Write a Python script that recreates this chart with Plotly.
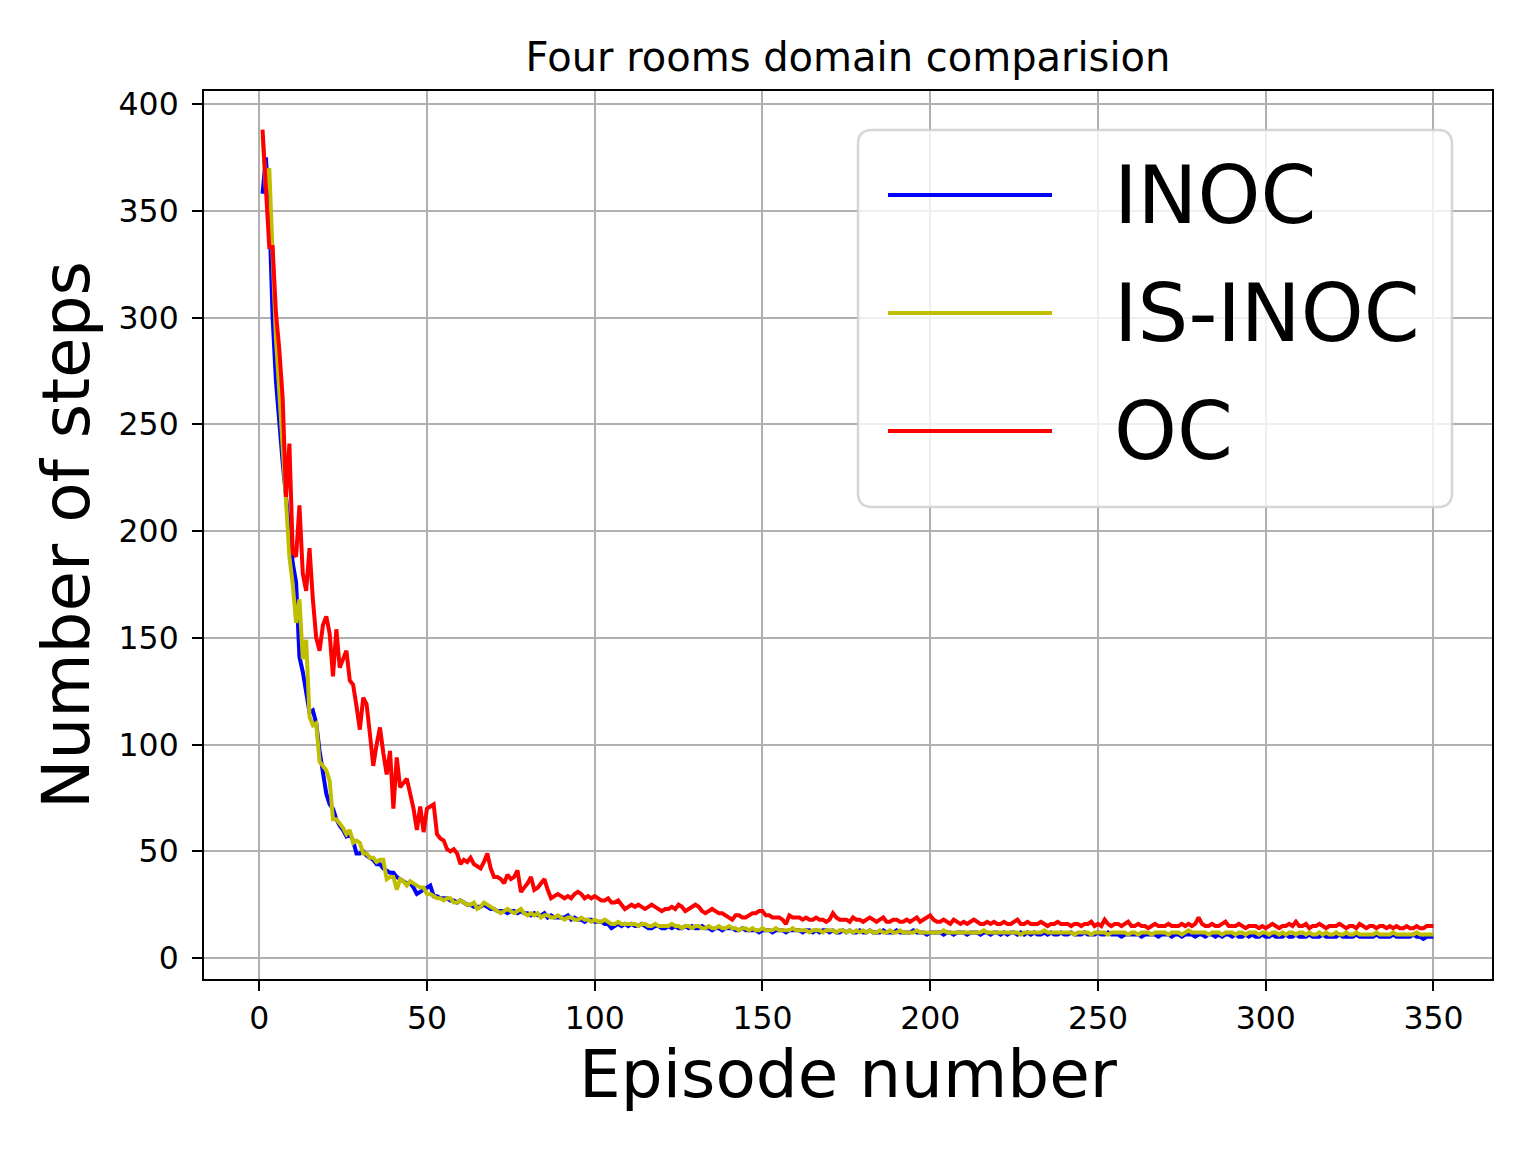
import plotly.graph_objects as go

# ---- data ----
oc = [
    388, 360, 333, 333, 302, 285, 262, 216, 241, 190,
    188, 212, 180, 172, 192, 168, 150, 144, 156, 160,
    152, 132, 154, 136, 140, 144, 130, 128, 118, 107,
    122, 119, 105, 90, 100, 108, 96, 86, 97, 70,
    94, 80, 82, 84, 77, 70, 60, 71, 59, 70,
    71, 72, 58, 56, 55, 51, 50, 51, 49, 44,
    46, 45, 47, 44, 43, 42, 45, 49, 42, 38,
    38, 37, 35, 39, 37, 38, 41, 31, 33, 35,
    38, 32, 33, 35, 37, 32, 28, 29, 30, 29,
    28, 29, 28, 30, 31, 30, 28, 29, 28, 29,
    28, 27, 27, 28, 26, 26, 27, 25, 23, 24,
    25, 24, 25, 24, 23, 24, 25, 24, 23, 22,
    23, 23, 24, 23, 25, 24, 22, 23, 24, 25,
    24, 22, 21, 22, 23, 22, 21, 21, 20, 19,
    18, 20, 20, 19, 19, 20, 21, 21, 22, 22,
    20, 20, 19, 19, 19, 18, 16, 20, 19, 19,
    19, 18, 19, 18, 18, 19, 18, 18, 17, 18,
    21, 19, 18, 18, 18, 17, 19, 18, 18, 17,
    18, 19, 18, 17, 18, 19, 17, 17, 18, 18,
    17, 17, 18, 17, 18, 19, 17, 18, 19, 20,
    18, 17, 17, 18, 17, 16, 18, 17, 16, 17,
    16, 17, 18, 17, 16, 16, 17, 16, 17, 16,
    16, 17, 16, 16, 17, 18, 16, 16, 17, 16,
    16, 16, 17, 16, 15, 16, 16, 17, 16, 16,
    16, 15, 16, 16, 15, 16, 16, 17, 15, 16,
    15, 18, 16, 15, 16, 16, 15, 16, 17, 15,
    15, 16, 15, 15, 14, 15, 16, 15, 15, 15,
    16, 15, 15, 15, 16, 15, 16, 15, 16, 19,
    16, 15, 15, 16, 15, 15, 16, 17, 15, 15,
    15, 16, 15, 14, 15, 15, 15, 14, 15, 14,
    15, 16, 15, 14, 15, 15, 16, 15, 17, 15,
    15, 16, 14, 15, 15, 16, 15, 14, 15, 15,
    15, 16, 15, 14, 15, 15, 14, 16, 15, 14,
    15, 15, 14, 15, 15, 14, 15, 14, 15, 14,
    14, 15, 14, 14, 15, 14, 14, 15, 15, 15,
]

inoc = [
    358, 375, 350, 300, 270, 250, 232, 216, 200, 185,
    176, 141, 134, 125, 115, 116, 110, 97, 88, 77,
    72, 70, 65, 62, 60, 57, 58, 55, 49, 49,
    50, 48, 47, 46, 44, 44, 42, 41, 40, 40,
    38, 37, 36, 35, 35, 33, 30, 31, 32, 33,
    34, 29, 29, 28, 28, 28, 27, 27, 26, 27,
    26, 25, 25, 24, 24, 24, 25, 24, 23, 23,
    22, 22, 22, 21, 22, 22, 21, 22, 21, 21,
    20, 21, 20, 20, 21, 19, 20, 19, 19, 19,
    19, 20, 18, 19, 18, 18, 17, 18, 18, 17,
    17, 17, 16, 16, 14, 15, 16, 15, 16, 15,
    16, 15, 15, 16, 15, 14, 14, 15, 15, 14,
    14, 15, 14, 15, 14, 14, 15, 14, 15, 14,
    14, 15, 14, 14, 13, 14, 14, 13, 14, 14,
    14, 13, 13, 14, 13, 13, 13, 13, 12, 13,
    13, 13, 12, 13, 13, 13, 12, 13, 13, 13,
    13, 12, 13, 13, 12, 13, 12, 13, 13, 12,
    13, 12, 12, 13, 12, 13, 12, 12, 13, 12,
    12, 13, 12, 12, 12, 13, 12, 12, 12, 13,
    12, 12, 12, 12, 13, 12, 12, 12, 11, 12,
    12, 12, 12, 11, 12, 12, 11, 12, 12, 12,
    11, 12, 12, 12, 11, 12, 12, 11, 12, 12,
    11, 12, 11, 12, 12, 11, 12, 11, 12, 11,
    12, 11, 11, 12, 11, 12, 11, 11, 12, 11,
    11, 12, 11, 11, 11, 12, 11, 11, 11, 12,
    11, 11, 12, 11, 11, 11, 10, 11, 11, 11,
    11, 11, 10, 11, 11, 11, 11, 10, 11, 11,
    11, 10, 11, 11, 10, 11, 11, 11, 10, 11,
    11, 10, 11, 11, 10, 11, 10, 11, 11, 10,
    11, 10, 10, 11, 10, 11, 10, 10, 11, 10,
    10, 11, 10, 10, 10, 11, 10, 10, 11, 10,
    10, 10, 11, 10, 10, 10, 11, 10, 10, 10,
    10, 11, 10, 10, 10, 10, 11, 10, 10, 10,
    10, 10, 11, 10, 10, 10, 10, 11, 10, 10,
    10, 10, 10, 11, 10, 10, 9, 10, 10, 10,
]

is_inoc = [
    385, 360, 370, 330, 290, 265, 240, 220, 188, 175,
    157, 168, 140, 149, 113, 109, 110, 92, 90, 88,
    83, 65, 65, 63, 61, 58, 60, 54, 55, 54,
    49, 49, 47, 47, 45, 46, 46, 37, 38, 38,
    32, 37, 36, 34, 36, 35, 34, 33, 33, 30,
    30, 29, 28, 28, 27, 28, 28, 26, 26, 27,
    26, 25, 25, 26, 23, 24, 26, 25, 24, 23,
    22, 21, 22, 23, 22, 21, 22, 23, 21, 20,
    21, 20, 21, 19, 20, 20, 19, 19, 20, 19,
    18, 19, 19, 18, 18, 19, 18, 18, 17, 18,
    17, 17, 18, 17, 16, 16, 17, 16, 16, 16,
    16, 16, 15, 16, 16, 15, 15, 16, 15, 15,
    15, 15, 16, 15, 15, 14, 15, 15, 14, 15,
    15, 14, 14, 15, 14, 14, 15, 14, 14, 15,
    14, 14, 13, 14, 14, 13, 14, 13, 13, 14,
    13, 13, 13, 14, 13, 13, 13, 13, 14, 13,
    13, 13, 13, 12, 13, 13, 13, 12, 13, 13,
    13, 12, 13, 13, 12, 13, 12, 13, 12, 13,
    12, 13, 12, 12, 13, 12, 12, 13, 12, 12,
    13, 12, 12, 12, 12, 13, 12, 12, 12, 12,
    12, 12, 12, 13, 12, 12, 12, 12, 12, 12,
    12, 12, 12, 12, 12, 13, 12, 12, 12, 12,
    12, 12, 12, 12, 12, 12, 11, 12, 12, 12,
    12, 12, 12, 13, 12, 12, 12, 12, 12, 12,
    12, 12, 11, 12, 12, 12, 12, 11, 12, 12,
    12, 12, 11, 12, 12, 12, 12, 12, 11, 12,
    12, 11, 12, 12, 12, 11, 12, 12, 12, 12,
    11, 12, 12, 12, 11, 12, 13, 12, 12, 12,
    12, 12, 11, 12, 12, 12, 11, 12, 12, 12,
    11, 12, 12, 11, 12, 12, 12, 11, 12, 12,
    11, 12, 12, 11, 12, 11, 12, 12, 11, 12,
    12, 11, 12, 11, 11, 12, 11, 12, 11, 11,
    12, 11, 11, 12, 11, 11, 12, 11, 11, 11,
    11, 11, 12, 11, 11, 11, 11, 12, 11, 11,
    11, 11, 11, 11, 12, 11, 11, 11, 11, 11,
]

x_ticks = [0, 50, 100, 150, 200, 250, 300, 350]
y_ticks = [0, 50, 100, 150, 200, 250, 300, 350, 400]

series = [("INOC", inoc, "#0000ff"), ("IS-INOC", is_inoc, "#bfbf00"), ("OC", oc, "#ff0000")]

W, H = 1536, 1152
L, R, T, B = 204, 1492, 91, 979
FONT = "DejaVu Sans"

fig = go.Figure()
for name, vals, col in series:
    fig.add_trace(go.Scatter(x=list(range(1, len(vals) + 1)), y=vals, mode="lines",
                             name=name, line=dict(color=col, width=4)))

def px2paper(px, py):
    return (px - L) / (R - L), (B - py) / (B - T)

# legend box (rounded) drawn manually to match the matplotlib look
bx0, by0, bx1, by1, rad = 858, 130, 1452, 507, 14
def pp(x, y):
    a, b = px2paper(x, y)
    return f"{a:.5f},{b:.5f}"
path = (f"M {pp(bx0 + rad, by0)} L {pp(bx1 - rad, by0)} Q {pp(bx1, by0)} {pp(bx1, by0 + rad)} "
        f"L {pp(bx1, by1 - rad)} Q {pp(bx1, by1)} {pp(bx1 - rad, by1)} "
        f"L {pp(bx0 + rad, by1)} Q {pp(bx0, by1)} {pp(bx0, by1 - rad)} "
        f"L {pp(bx0, by0 + rad)} Q {pp(bx0, by0)} {pp(bx0 + rad, by0)} Z")
shapes = [dict(type="path", path=path, xref="paper", yref="paper",
               fillcolor="rgba(255,255,255,0.8)", line=dict(color="rgba(204,204,204,0.8)", width=2.5),
               layer="above")]
annotations = []
ys = [195, 313, 431]
for (name, vals, col), yy in zip(series, ys):
    x0, y0 = px2paper(888, yy)
    x1, _ = px2paper(1052, yy)
    shapes.append(dict(type="line", xref="paper", yref="paper", x0=x0, x1=x1, y0=y0, y1=y0,
                       line=dict(color=col, width=4), layer="above"))
    tx, ty = px2paper(1112, yy)
    annotations.append(dict(text=name, xref="paper", yref="paper", x=tx, y=ty,
                            xanchor="left", yanchor="middle", showarrow=False,
                            font=dict(family=FONT, size=80, color="black")))

axis_common = dict(showline=True, mirror=True, linecolor="black", linewidth=2,
                   ticks="outside", ticklen=10, tickwidth=2, tickcolor="black",
                   showgrid=True, gridcolor="#b0b0b0", gridwidth=2, zeroline=False,
                   tickfont=dict(family=FONT, size=31.5, color="black"))

fig.update_layout(
    width=W, height=H,
    margin=dict(l=L, r=W - R, t=T, b=H - B),
    paper_bgcolor="white", plot_bgcolor="white",
    showlegend=False,
    font=dict(family=FONT, color="black"),
    title=dict(text="Four rooms domain comparision", x=(L + R) / 2 / W, xanchor="center",
               y=1 - 57 / H, yanchor="middle", yref="container",
               font=dict(family=FONT, size=40, color="black")),
    xaxis=dict(range=[-16.45, 367.45], tickvals=x_ticks,
               title=dict(text="Episode number", font=dict(family=FONT, size=66, color="black"), standoff=15),
               **axis_common),
    yaxis=dict(range=[-9.8, 406.1], tickvals=y_ticks, ticklabelstandoff=7,
               title=dict(text="Number of steps", font=dict(family=FONT, size=66, color="black"), standoff=7),
               **axis_common),
    shapes=shapes,
    annotations=annotations,
)

fig.write_html("out.html")
